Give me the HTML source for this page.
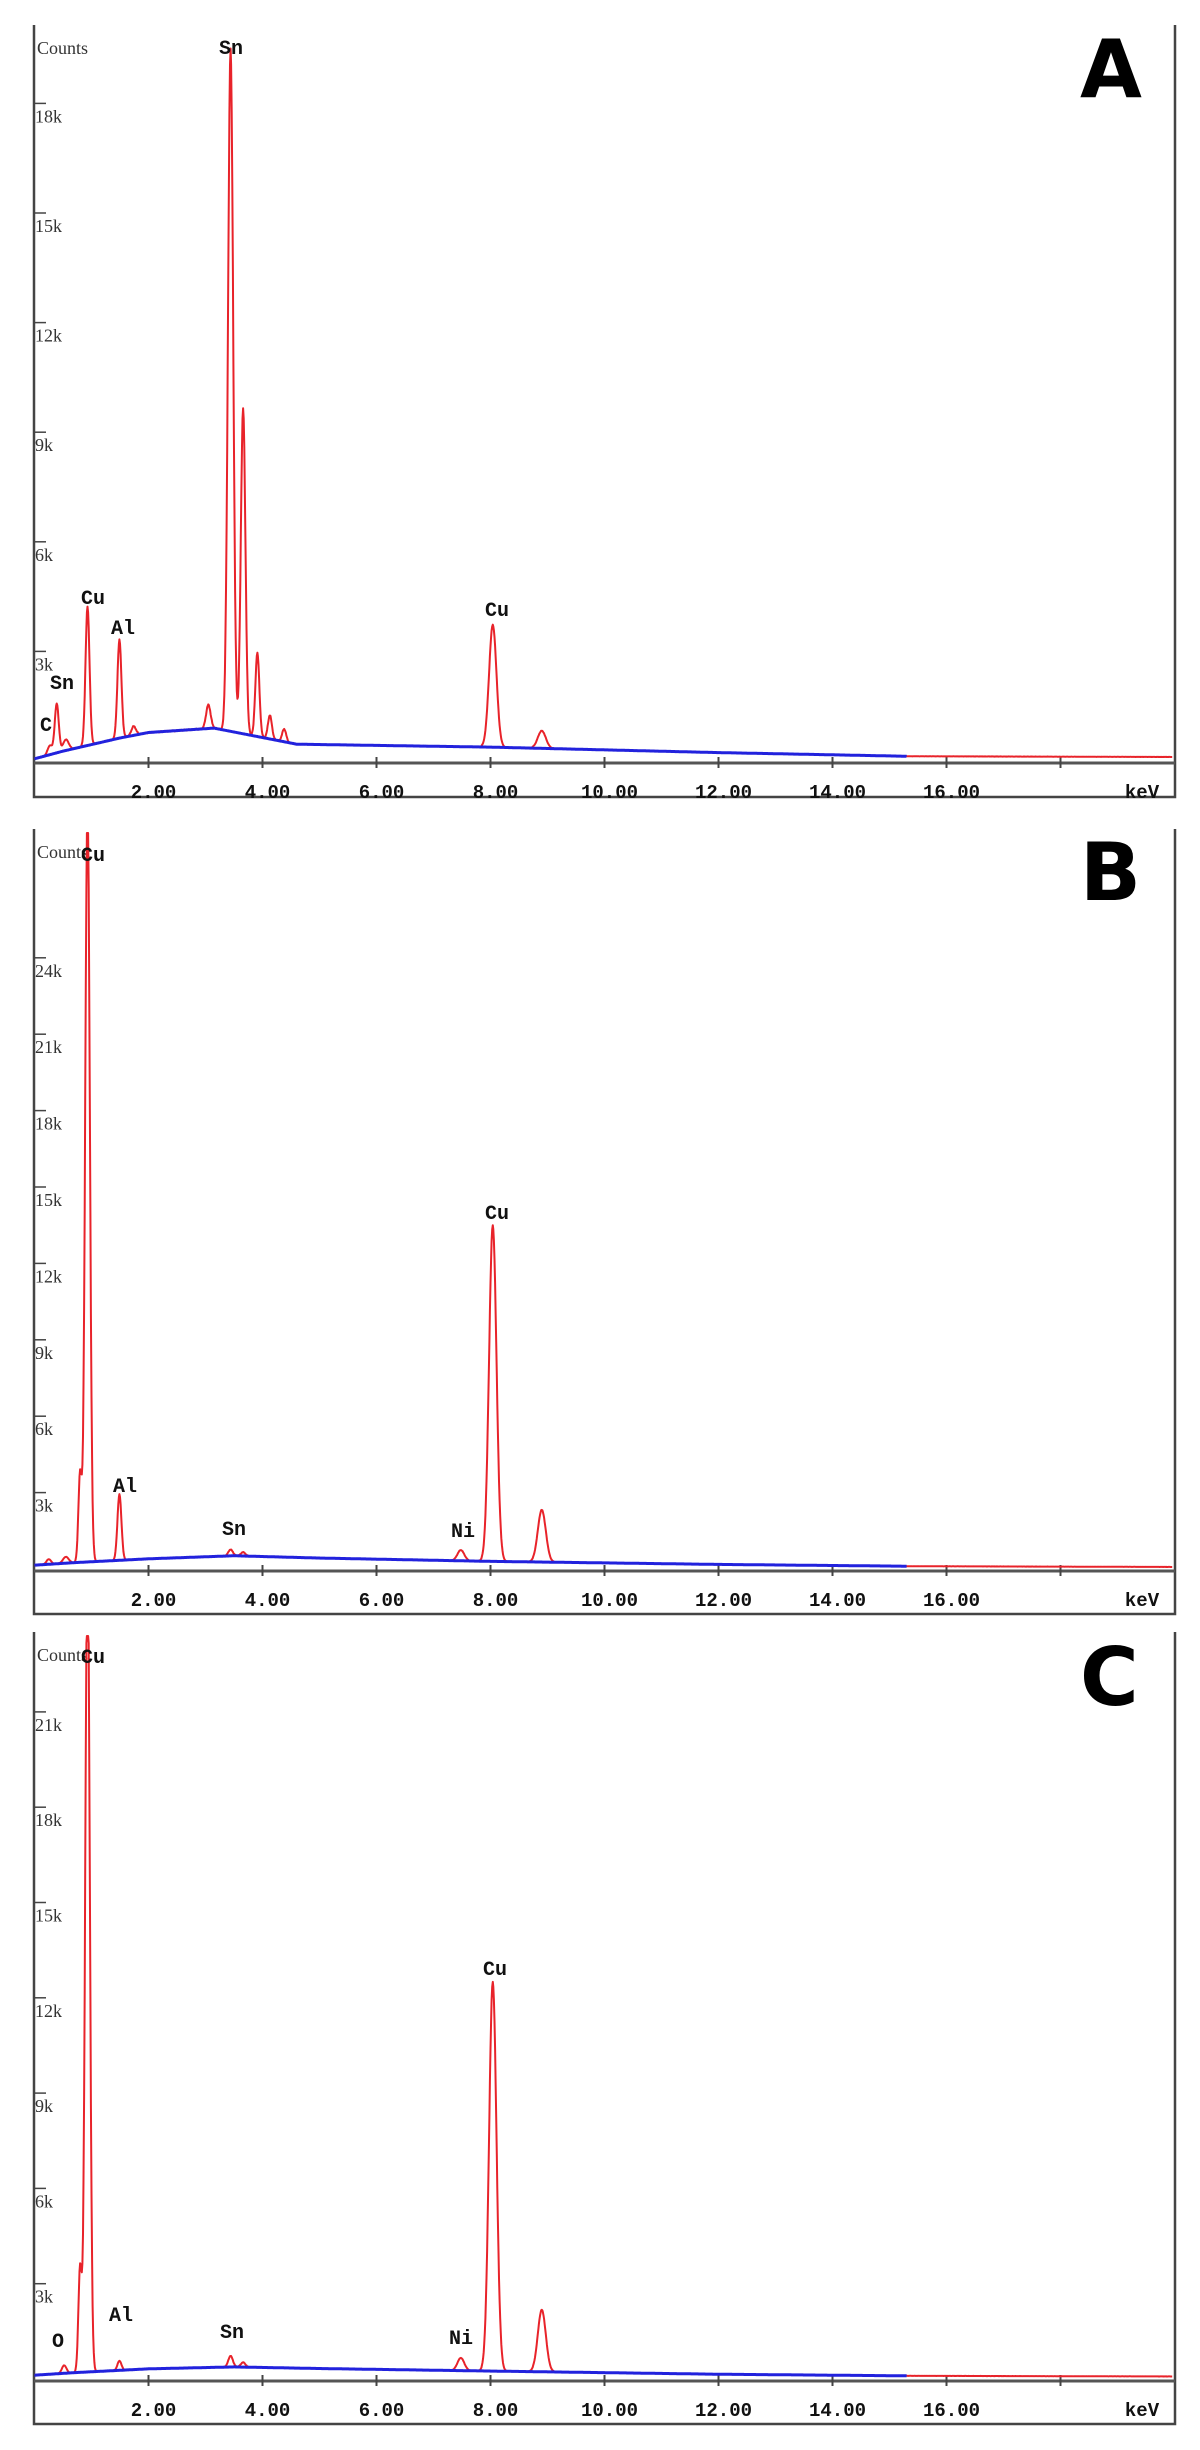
<!DOCTYPE html>
<html><head><meta charset="utf-8">
<style>
html,body{margin:0;padding:0;background:#fff;}
svg{display:block;}
.tk{font-family:"Liberation Serif",serif;font-size:18px;fill:#333;}
.pk{font-family:"Liberation Mono",monospace;font-weight:bold;font-size:20px;fill:#111;}
.xl{font-family:"Liberation Mono",monospace;font-weight:bold;font-size:19px;fill:#111;}
.big{font-family:"DejaVu Sans","Liberation Sans",sans-serif;font-weight:bold;font-size:80px;fill:#000;}
</style></head>
<body>
<svg id="s" width="1200" height="2450" viewBox="0 0 1200 2450" xmlns="http://www.w3.org/2000/svg">
<rect width="1200" height="2450" fill="#fff"/>
<g id="g"></g>
<text class="big" x="1080" y="97">A</text>
<text class="big" x="1080" y="900">B</text>
<text class="big" x="1080" y="1705">C</text>
</svg>
<script>
const NS="http://www.w3.org/2000/svg";
const g=document.getElementById('g');
function el(t,a,txt){const e=document.createElementNS(NS,t);for(const k in a)e.setAttribute(k,a[k]);if(txt!==undefined)e.textContent=txt;g.appendChild(e);return e;}
const X=k=>34.5+57*k;
function interp(pts,k){if(k<=pts[0][0])return pts[0][1];for(let i=1;i<pts.length;i++){if(k<=pts[i][0]){const a=pts[i-1],b=pts[i];return a[1]+(b[1]-a[1])*(k-a[0])/(b[0]-a[0]);}}return pts[pts.length-1][1];}
function panel(p){
  const Y=c=>p.base-c*p.per3k/3000;
  // frame
  el('path',{d:`M34 ${p.top} V${p.bot} H1175 V${p.top}`,fill:'none',stroke:'#444','stroke-width':2.5});
  // baseline axis
  el('line',{x1:34,y1:p.base+2,x2:1175,y2:p.base+2,stroke:'#555','stroke-width':3});
  for(let k=2;k<=18;k+=2){el('line',{x1:X(k),y1:p.base-4,x2:X(k),y2:p.base+7,stroke:'#444','stroke-width':2});}
  for(let k=2;k<=16;k+=2){el('text',{class:'xl',x:X(k)+5,y:p.base+37,'text-anchor':'middle'},k.toFixed(2));}
  el('text',{class:'xl',x:1142,y:p.base+37,'text-anchor':'middle'},'keV');
  // y ticks
  for(let c=3;c<=p.ymax;c+=3){const y=Y(c*1000);el('line',{x1:34,y1:y,x2:46,y2:y,stroke:'#444','stroke-width':1.5});el('text',{class:'tk',x:35,y:y+19},c+'k');}
  el('text',{class:'tk',x:37,y:p.top+29},'Counts');
  // spectrum
  let d='',db='';
  for(let k=0;k<=19.97;k+=0.01){
    let bg=interp(p.bg,k);
    let c=bg+Math.sin(k*91.3)*0.01*bg+Math.sin(k*237)*0.012*bg;
    for(const q of p.peaks){const z=(k-q[0])/q[2];c+=q[1]*Math.exp(-0.5*z*z);}
    let y=Math.max(Y(c),p.top+4);
    d+=(d?'L':'M')+X(k).toFixed(1)+' '+y.toFixed(1);
    if(k<=15.3)db+=(db?'L':'M')+X(k).toFixed(1)+' '+Y(bg).toFixed(1);
  }
  el('path',{d:d,fill:'none',stroke:'#e8232a','stroke-width':2,'stroke-linejoin':'round'});
  el('path',{d:db,fill:'none',stroke:'#2222dd','stroke-width':3});
  for(const l of p.labels){el('text',{class:'pk',x:l[1],y:l[2]+7,'text-anchor':'middle'},l[0]);}
}
panel({top:25,bot:797,base:761,per3k:109.6,ymax:18,
 bg:[[0,60],[0.5,270],[1.5,630],[2,780],[3.15,900],[4.6,460],[8,380],[12,230],[15.3,130],[20,110]],
 peaks:[[0.27,250,0.04],[0.39,1350,0.035],[0.55,300,0.05],[0.93,3800,0.035],[1.49,2700,0.035],[1.74,250,0.04],[3.05,650,0.04],[3.44,18700,0.045],[3.66,8900,0.04],[3.91,2300,0.035],[4.13,650,0.035],[4.38,350,0.035],[8.04,3350,0.065],[8.9,480,0.07]],
 labels:[['Sn',231,47],['Cu',93,597],['Al',123,627],['Sn',62,682],['C',46,724],['Cu',497,609]]});
panel({top:829,bot:1614,base:1569,per3k:76.4,ymax:24,
 bg:[[0,150],[0.7,250],[2,400],[3.5,520],[5,430],[8,300],[12,180],[15.3,110],[20,80]],
 peaks:[[0.25,200,0.04],[0.55,250,0.05],[0.8,3500,0.03],[0.93,30000,0.04],[1.49,2600,0.035],[3.44,250,0.04],[3.66,150,0.04],[7.48,420,0.06],[8.04,13200,0.065],[8.9,2050,0.07]],
 labels:[['Cu',93,854],['Al',125,1485],['Sn',234,1528],['Ni',463,1530],['Cu',497,1212]]});
panel({top:1632,bot:2424,base:2379,per3k:95.3,ymax:21,
 bg:[[0,120],[0.7,200],[2,320],[3.5,380],[5,330],[8,250],[12,150],[15.3,100],[20,80]],
 peaks:[[0.52,250,0.04],[0.8,3300,0.03],[0.93,26000,0.04],[1.49,300,0.035],[3.44,350,0.04],[3.66,150,0.04],[7.48,400,0.06],[8.04,12250,0.065],[8.9,1950,0.07]],
 labels:[['Cu',93,1656],['O',58,2340],['Al',121,2314],['Sn',232,2331],['Ni',461,2337],['Cu',495,1968]]});
</script>
</body></html>
